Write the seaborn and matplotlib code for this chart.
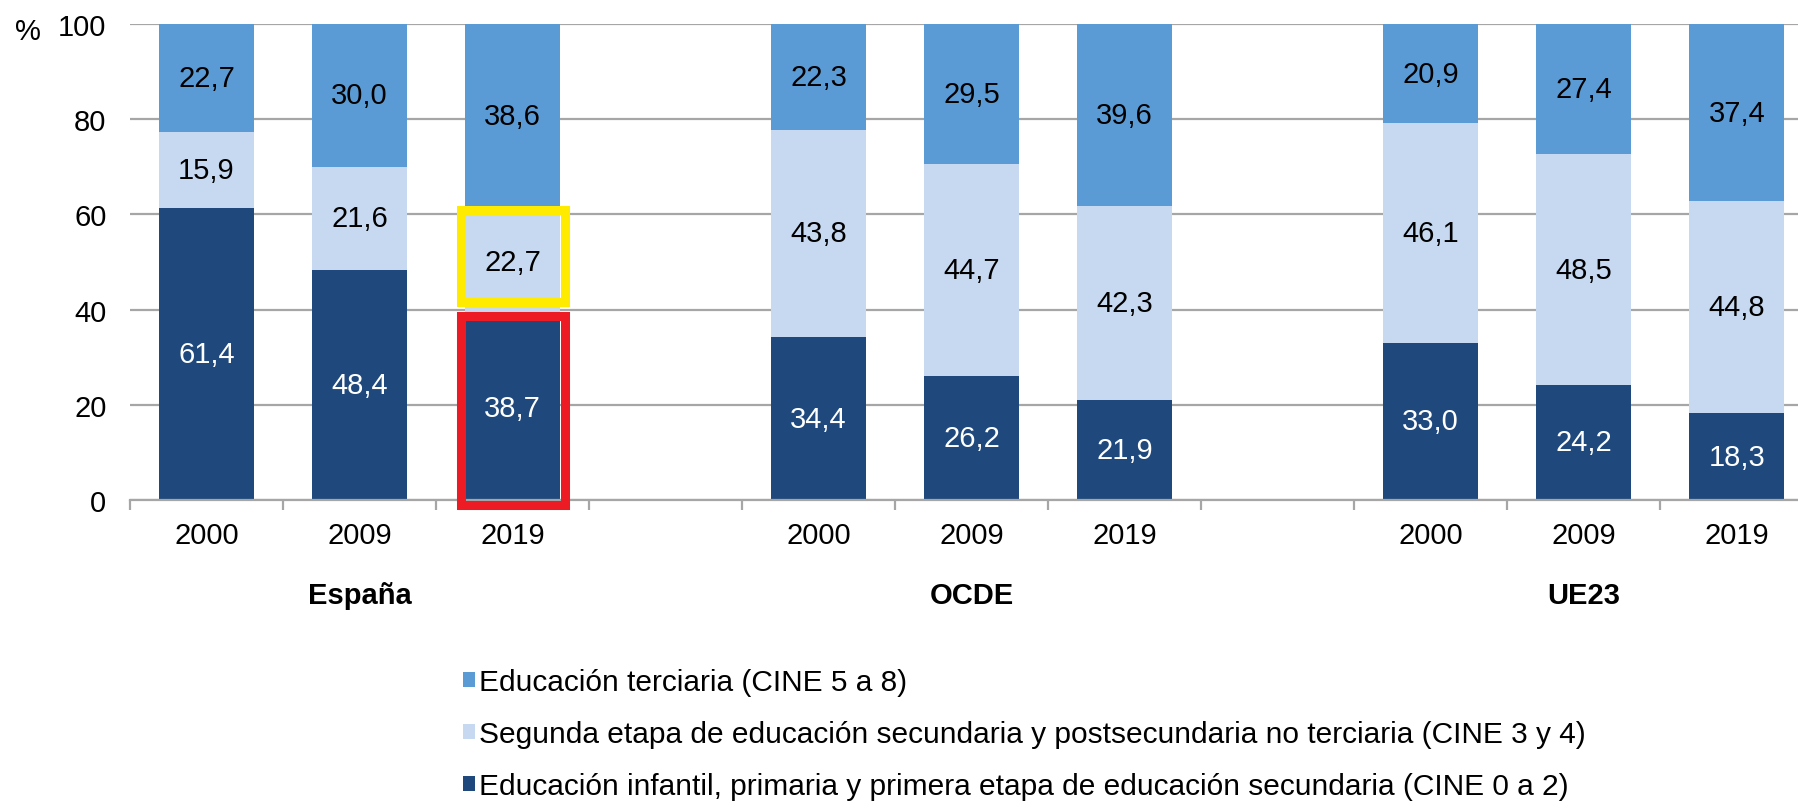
import numpy as np
import pandas as pd
import matplotlib
matplotlib.use("Agg")
import matplotlib.pyplot as plt
import matplotlib.transforms as mtransforms
from matplotlib.patches import Patch, Rectangle
from matplotlib.ticker import FixedLocator
import seaborn as sns

# ======================================
# DATA
# ======================================

groups = ["España", "OCDE", "UE23"]
years = ["2000", "2009", "2019"]

basic = [61.4, 48.4, 38.7, 34.4, 26.2, 21.9, 33.0, 24.2, 18.3]
upper_sec = [15.9, 21.6, 22.7, 43.8, 44.7, 42.3, 46.1, 48.5, 44.8]
tertiary = [22.7, 30.0, 38.6, 22.3, 29.5, 39.6, 20.9, 27.4, 37.4]

labels = [
    "Educación terciaria (CINE 5 a 8)",
    "Segunda etapa de educación secundaria y postsecundaria no terciaria (CINE 3 y 4)",
    "Educación infantil, primaria y primera etapa de educación secundaria (CINE 0 a 2)",
]

colors = ["#5B9BD5", "#C6D9F1", "#1F497D"]

# ======================================
# BUILD TABLE (100% stacked)
# ======================================

pos = []
for g in range(len(groups)):
    for y in range(len(years)):
        pos.append(g * 4 + y)

df = pd.DataFrame({
    "pos": pos,
    "basic": basic,
    "upper": upper_sec,
    "tert": tertiary,
})
total = df["basic"] + df["upper"] + df["tert"]
df["c_basic"] = df["basic"] / total * 100
df["c_upper"] = (df["basic"] + df["upper"]) / total * 100
df["c_tert"] = 100.0

# ======================================
# PLOT
# ======================================

sns.set_style("white")
plt.rcParams["font.family"] = ["Liberation Sans", "DejaVu Sans"]
plt.rcParams["text.color"] = "black"
plt.rcParams["xtick.labelcolor"] = "black"
plt.rcParams["ytick.labelcolor"] = "black"

FS = 21

fig = plt.figure(figsize=(17.98, 8.12), dpi=100)
ax = fig.add_axes([130 / 1798, 311 / 812, 1 - 130 / 1798, 476 / 812])

bar_w = 0.62
for col, c in zip(["c_tert", "c_upper", "c_basic"], colors):
    sns.barplot(data=df, x="pos", y=col, native_scale=True, width=bar_w,
                color=c, errorbar=None, linewidth=0, saturation=1, ax=ax)

ax.set_xlim(-0.5, 10.4)
ax.set_ylim(0, 100)
ax.set_xlabel("")
ax.set_ylabel("")

# gridlines
ax.set_yticks([0, 20, 40, 60, 80, 100])
ax.yaxis.grid(True, color="#A6A6A6", linewidth=1.6)
ax.set_axisbelow(True)
ax.tick_params(axis="y", length=0, pad=17, labelsize=FS, labelcolor="black")

# x ticks
ax.set_xticks(df["pos"])
ax.set_xticklabels(years * 3)
ax.xaxis.set_minor_locator(FixedLocator(np.arange(-0.5, 10.6, 1.0)))
ax.tick_params(axis="x", which="major", length=0, pad=15, labelsize=FS,
               labelcolor="black")
ax.tick_params(axis="x", which="minor", length=7, width=1.6,
               color="#A6A6A6", direction="out", bottom=True)

for s in ["left", "right", "top"]:
    ax.spines[s].set_visible(False)
ax.spines["bottom"].set_color("#A6A6A6")
ax.spines["bottom"].set_linewidth(1.6)

# segment labels
for i, row in df.iterrows():
    mids = [row["c_basic"] / 2,
            (row["c_basic"] + row["c_upper"]) / 2,
            (row["c_upper"] + 100) / 2]
    vals = [row["basic"], row["upper"], row["tert"]]
    tcol = ["white", "black", "black"]
    for m, v, tc in zip(mids, vals, tcol):
        ax.text(row["pos"], m, f"{v:.1f}".replace(".", ","), ha="center",
                va="center", fontsize=FS, color=tc)

# group labels
trans = mtransforms.blended_transform_factory(ax.transData, ax.transAxes)
for g, name in enumerate(groups):
    ax.text(g * 4 + 1, -0.2, name, transform=trans, ha="center", va="center",
            fontsize=FS, fontweight="bold", color="black")

# "%" label
trans_y = mtransforms.blended_transform_factory(ax.transAxes, ax.transData)
ax.text(-0.061, 98.5, "%", transform=trans_y, ha="center", va="center",
        fontsize=FS, color="black")

# highlight boxes on España 2019
hx = df["pos"][2]
pad = 0.03
ax.add_patch(Rectangle((hx - bar_w / 2 - pad, df["c_basic"][2] + 3),
                       bar_w + 2 * pad,
                       df["c_upper"][2] - df["c_basic"][2] - 3.4,
                       fill=False, edgecolor="#FFEB00", linewidth=6.5,
                       clip_on=False, zorder=5))
ax.add_patch(Rectangle((hx - bar_w / 2 - pad, -1),
                       bar_w + 2 * pad, df["c_basic"][2] + 0.9,
                       fill=False, edgecolor="#ED1C24", linewidth=6.5,
                       clip_on=False, zorder=5))

# legend
handles = [Patch(facecolor=c, edgecolor="none") for c in colors]
leg = fig.legend(handles, labels, loc="upper left",
                 bbox_to_anchor=(0.249, 0.194),
                 frameon=False, handlelength=0.42, handleheight=0.42,
                 handletextpad=0.12, labelspacing=0.8, borderpad=0,
                 prop={"family": ["Liberation Sans"], "size": 21.5})
for t in leg.get_texts():
    t.set_color("black")

plt.savefig("out.png", dpi=100)
